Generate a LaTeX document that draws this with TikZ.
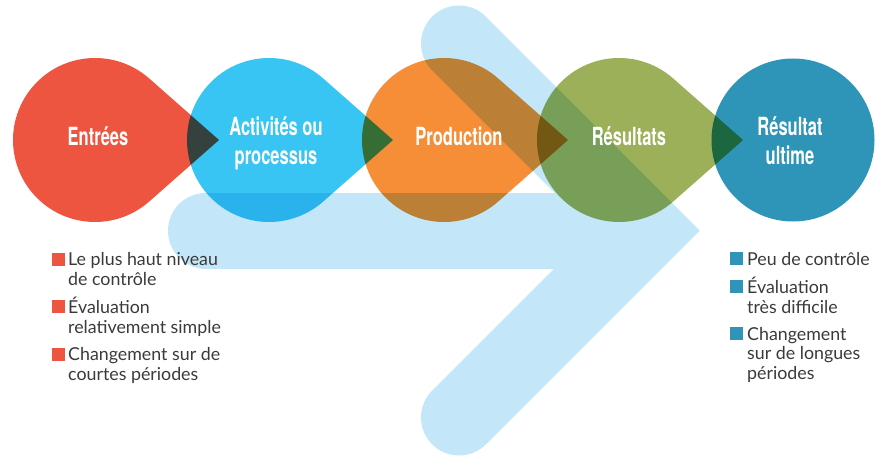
\documentclass[tikz,border=0pt]{standalone}
\usepackage{fontspec}
\setmainfont{Lato}
\newfontfamily\hfont[FakeStretch=0.66]{TeX Gyre Heros}
\usetikzlibrary{calc}
\definecolor{cred}{HTML}{EE5540}
\definecolor{ccyan}{HTML}{38C5F3}
\definecolor{corange}{HTML}{F58E37}
\definecolor{cgreen}{HTML}{9CB05A}
\definecolor{cteal}{HTML}{2E94B8}
\definecolor{carrow}{HTML}{C3E7F8}
\definecolor{ctext}{HTML}{3A3A3A}
\tikzset{
  bigarrow/.style={draw=carrow, line width=76pt},
  drop/.style={fill=#1, blend mode=multiply},
  head/.style={text=white, font=\hfont\bfseries\fontsize{25}{29}\selectfont, align=center, anchor=base, inner sep=0pt},
  item/.style={text=ctext, font=\fontsize{17.8}{19.5}\selectfont, align=left, anchor=base west, inner sep=0pt},
  bullet/.style={fill=#1, minimum size=13pt, inner sep=0pt, anchor=south west},
}
\begin{document}
\begin{tikzpicture}[x=1pt,y=1pt]
\useasboundingbox (0,0) rectangle (875,456);
% background arrow
\coordinate (sh) at (206,225.5);
\coordinate (vx) at (646,225.5);
\coordinate (ua) at (459,412.5);
\coordinate (la) at (459,38.5);
\draw[bigarrow, line cap=round] (sh) -- (600,225.5);
\draw[bigarrow, line cap=round, miter limit=10] (ua) -- (vx) -- (la);
% teardrops
\foreach \cx/\col in {95/cred, 269/ccyan, 444/corange, 619/cgreen}{
  \fill[drop=\col] (\cx+124,316) -- ($(\cx,316)+(48.6:82)$) arc[start angle=48.6, end angle=311.4, radius=82] -- cycle;
}
\fill[drop=cteal] (793,316) circle[radius=81.5];
% headings (base = baseline of last line)
\node[head] (h1) at (98,310) {Entrées};
\node[head] (h2) at (276,292) {Activités ou\\processus};
\node[head] (h3) at (459,310) {Production};
\node[head] (h4) at (629,310) {Résultats};
\node[head] (h5) at (790,292) {Résultat\\ultime};
% left list
\node[bullet=cred] (b1) at (52,190) {};
\node[item] (t1) at (68,171) {Le plus haut niveau\\de contrôle};
\node[bullet=cred] (b2) at (52,143) {};
\node[item] (t2) at (68,123) {Évaluation\\relativement simple};
\node[bullet=cred] (b3) at (52,95) {};
\node[item] (t3) at (68,76) {Changement sur de\\courtes périodes};
% right list
\node[bullet=cteal] (b4) at (730,191) {};
\node[item] (t4) at (747,191) {Peu de contrôle};
\node[bullet=cteal] (b5) at (730,163) {};
\node[item] (t5) at (747,143) {Évaluation\\très difficile};
\node[bullet=cteal] (b6) at (730,116) {};
\node[item] (t6) at (747,77) {Changement\\sur de longues\\périodes};
\end{tikzpicture}
\end{document}
